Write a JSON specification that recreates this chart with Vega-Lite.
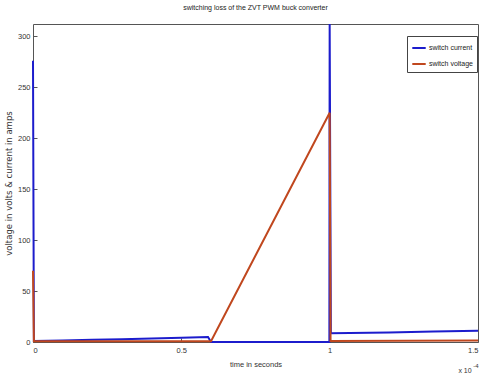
{
  "$schema": "https://vega.github.io/schema/vega-lite/v6.json",
  "width": 445,
  "height": 318,
  "autosize": "none",
  "padding": {"left": 33, "top": 24, "right": 3, "bottom": 32},
  "background": "white",
  "title": {"text": "switching loss of the ZVT PWM buck converter", "fontSize": 7, "fontWeight": "normal", "font": "Liberation Sans", "color": "#222", "offset": 9, "anchor": "middle"},
  "config": {
    "view": {"stroke": "#555", "strokeWidth": 1},
    "axis": {"grid": false, "domain": false, "labelFont": "Liberation Sans", "labelFontSize": 7.5, "labelColor": "#333", "titleFont": "Liberation Sans", "titleFontSize": 7.5, "titleFontWeight": "normal", "titleColor": "#333", "tickColor": "#555", "tickSize": -4}
  },
  "datasets": {
    "sig": [
      {"t": 0, "v": 276, "s": "switch current"},
      {"t": 0.003, "v": 1, "s": "switch current"},
      {"t": 0.1, "v": 1.5, "s": "switch current"},
      {"t": 0.2, "v": 2.1, "s": "switch current"},
      {"t": 0.3, "v": 2.8, "s": "switch current"},
      {"t": 0.4, "v": 3.5, "s": "switch current"},
      {"t": 0.5, "v": 4.2, "s": "switch current"},
      {"t": 0.59, "v": 5, "s": "switch current"},
      {"t": 0.6, "v": 0, "s": "switch current"},
      {"t": 0.999, "v": 0, "s": "switch current"},
      {"t": 1.0, "v": 312, "s": "switch current"},
      {"t": 1.004, "v": 8.5, "s": "switch current"},
      {"t": 1.2, "v": 9.4, "s": "switch current"},
      {"t": 1.35, "v": 10.2, "s": "switch current"},
      {"t": 1.5, "v": 11, "s": "switch current"},
      {"t": 0, "v": 70, "s": "switch voltage"},
      {"t": 0.003, "v": 0.8, "s": "switch voltage"},
      {"t": 0.6, "v": 0.8, "s": "switch voltage"},
      {"t": 1.0, "v": 225, "s": "switch voltage"},
      {"t": 1.003, "v": 1, "s": "switch voltage"},
      {"t": 1.5, "v": 1.5, "s": "switch voltage"}
    ]
  },
  "layer": [
    {
      "data": {"name": "sig"},
      "mark": {"type": "line", "strokeWidth": 2, "clip": false},
      "encoding": {
        "x": {"field": "t", "type": "quantitative", "scale": {"domain": [0, 1.5], "nice": false}, "axis": {"values": [0, 0.5, 1, 1.5], "format": "~g", "title": "time in seconds", "titlePadding": 7, "labelPadding": 8}},
        "y": {"field": "v", "type": "quantitative", "scale": {"domain": [0, 312], "nice": false}, "axis": {"values": [0, 50, 100, 150, 200, 250, 300], "title": "voltage in volts & current in amps", "titleFont": "DejaVu Sans", "titleFontSize": 8.5, "titlePadding": 4, "labelPadding": 7}},
        "color": {"field": "s", "type": "nominal", "scale": {"domain": ["switch current", "switch voltage"], "range": ["#1c1ccc", "#c0471e"]},
          "legend": {"title": null, "orient": "none", "legendX": 374, "legendY": 12, "symbolType": "stroke", "symbolSize": 180, "symbolStrokeWidth": 2, "labelFont": "Liberation Sans", "labelFontSize": 7, "labelColor": "#222", "strokeColor": "#444", "fillColor": "white", "padding": 4, "rowPadding": 4, "labelOffset": 2}}
      }
    },
    {
      "data": {"values": [{"t": 1.5, "v": 0, "txt": "x 10"}]},
      "mark": {"type": "text", "fontSize": 7, "font": "Liberation Sans", "color": "#333", "dx": -13, "dy": 29},
      "encoding": {"x": {"field": "t", "type": "quantitative"}, "y": {"field": "v", "type": "quantitative"}, "text": {"field": "txt"}}
    },
    {
      "data": {"values": [{"t": 1.5, "v": 0, "txt": "-4"}]},
      "mark": {"type": "text", "fontSize": 6, "font": "Liberation Sans", "color": "#333", "dx": -2, "dy": 24},
      "encoding": {"x": {"field": "t", "type": "quantitative"}, "y": {"field": "v", "type": "quantitative"}, "text": {"field": "txt"}}
    }
  ]
}
